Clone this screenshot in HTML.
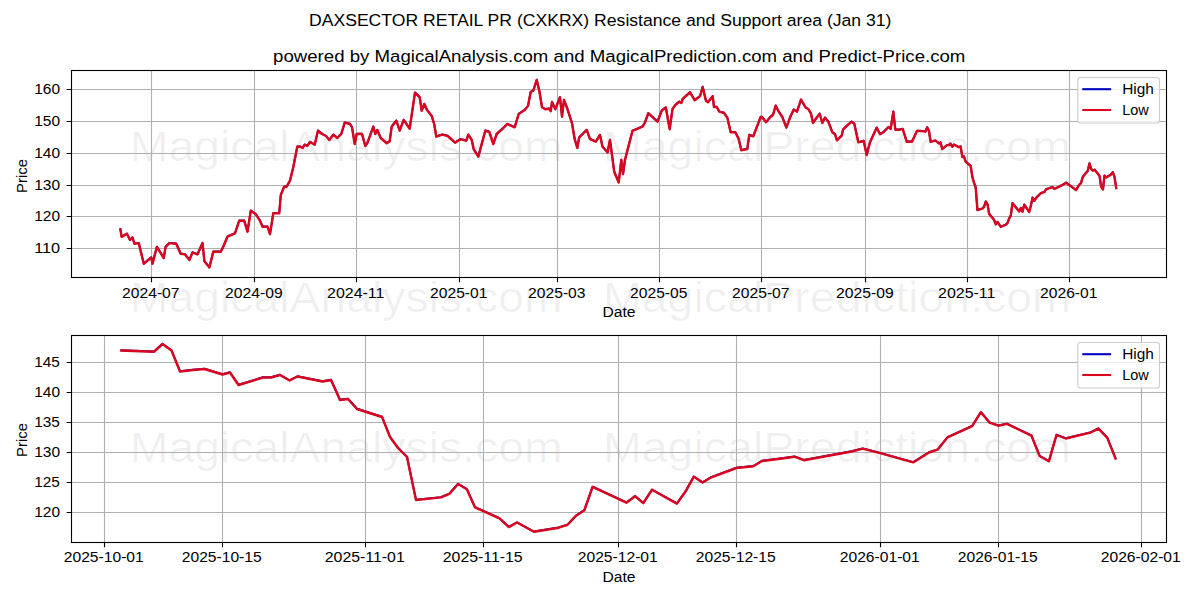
<!DOCTYPE html>
<html><head><meta charset="utf-8"><title>DAXSECTOR RETAIL PR (CXKRX) Resistance and Support area</title>
<style>html,body{margin:0;padding:0;background:#fff;width:1200px;height:600px;overflow:hidden}svg{display:block}text{font-family:"Liberation Sans",sans-serif}</style>
</head><body>
<svg width="1200" height="600" viewBox="0 0 1200 600">
<rect x="0" y="0" width="1200" height="600" fill="#ffffff"/>
<text x="129.89" y="161.20" font-size="41.667" textLength="432.67" lengthAdjust="spacingAndGlyphs" fill="#000" fill-opacity="0.058">MagicalAnalysis.com</text>
<text x="602.97" y="161.20" font-size="41.667" textLength="468.00" lengthAdjust="spacingAndGlyphs" fill="#000" fill-opacity="0.058">MagicalPrediction.com</text>
<text x="129.89" y="311.90" font-size="41.667" textLength="432.67" lengthAdjust="spacingAndGlyphs" fill="#000" fill-opacity="0.058">MagicalAnalysis.com</text>
<text x="602.97" y="311.90" font-size="41.667" textLength="468.00" lengthAdjust="spacingAndGlyphs" fill="#000" fill-opacity="0.058">MagicalPrediction.com</text>
<text x="129.89" y="461.60" font-size="41.667" textLength="432.67" lengthAdjust="spacingAndGlyphs" fill="#000" fill-opacity="0.058">MagicalAnalysis.com</text>
<text x="602.97" y="461.60" font-size="41.667" textLength="468.00" lengthAdjust="spacingAndGlyphs" fill="#000" fill-opacity="0.058">MagicalPrediction.com</text>
<path d="M151.5 70.5V277.5M254.5 70.5V277.5M356.5 70.5V277.5M459.5 70.5V277.5M557.5 70.5V277.5M659.5 70.5V277.5M761.5 70.5V277.5M865.5 70.5V277.5M967.5 70.5V277.5M1069.5 70.5V277.5M71.5 248.5H1166.5M71.5 216.5H1166.5M71.5 185.5H1166.5M71.5 153.5H1166.5M71.5 121.5H1166.5M71.5 89.5H1166.5" stroke="#b0b0b0" stroke-width="1.111" fill="none"/>
<path transform="translate(0 -0.25)" d="M120.40 229.40 L121.60 236.90 L126.90 233.80 L130.00 240.00 L132.50 237.50 L134.40 243.75 L138.75 243.10 L143.75 263.75 L151.25 257.50 L152.50 263.75 L156.90 246.90 L163.75 258.10 L165.60 246.90 L169.40 243.10 L176.25 243.75 L180.60 253.75 L185.00 254.40 L189.40 260.00 L192.50 252.50 L197.50 254.40 L202.50 243.10 L204.40 261.25 L209.40 267.50 L213.30 251.70 L220.80 251.70 L223.30 246.70 L227.50 236.70 L235.00 233.30 L239.20 220.80 L244.20 220.80 L247.50 231.70 L250.80 210.80 L255.80 214.20 L260.00 220.80 L262.50 226.70 L267.50 226.70 L270.00 234.20 L273.30 213.30 L279.20 213.30 L280.80 195.00 L284.20 186.70 L286.70 186.70 L290.00 180.70 L293.30 167.30 L297.30 146.70 L300.00 146.70 L302.70 148.00 L304.70 144.70 L307.30 146.00 L310.00 142.00 L314.70 144.70 L318.00 130.70 L322.00 134.00 L326.00 136.00 L329.30 140.00 L333.30 134.70 L337.30 138.00 L341.30 134.00 L344.70 122.70 L350.00 124.00 L352.00 127.30 L354.70 144.00 L356.70 134.00 L362.00 134.00 L365.30 146.00 L367.30 143.30 L373.30 126.70 L375.30 134.00 L377.30 130.00 L380.70 138.00 L386.70 143.30 L389.70 141.30 L391.70 126.70 L396.30 120.70 L399.70 130.70 L403.70 120.00 L409.70 128.70 L415.00 92.70 L419.70 97.30 L421.70 110.70 L424.30 104.00 L427.00 110.00 L431.70 116.00 L434.30 124.70 L436.30 136.70 L442.30 134.70 L447.70 136.00 L455.00 142.70 L460.30 139.30 L466.30 140.70 L468.30 134.70 L471.70 140.00 L473.70 149.30 L478.30 156.70 L485.30 130.70 L489.30 132.00 L493.30 144.00 L496.70 134.00 L502.00 129.30 L504.70 126.70 L507.30 124.00 L514.70 127.30 L518.70 114.00 L524.70 110.00 L528.00 106.00 L530.70 92.00 L533.30 90.70 L536.70 80.00 L539.30 90.70 L542.00 107.30 L545.30 109.30 L549.30 108.70 L550.70 111.30 L552.00 102.00 L555.30 109.30 L560.00 97.30 L562.00 116.70 L564.00 100.00 L567.30 108.70 L572.00 123.30 L574.70 139.30 L577.30 148.00 L579.20 137.50 L586.70 130.00 L590.00 139.20 L595.80 141.70 L600.00 135.00 L602.50 146.70 L607.50 152.50 L610.00 140.00 L614.20 171.70 L618.70 182.50 L621.30 160.00 L623.00 174.20 L625.00 160.00 L632.50 130.80 L642.50 126.70 L645.00 122.50 L648.30 113.30 L657.50 121.70 L661.70 110.80 L665.80 107.50 L669.70 129.20 L672.50 109.20 L675.30 105.00 L679.30 101.70 L681.30 103.00 L682.70 99.00 L690.00 92.30 L694.70 100.30 L700.00 96.30 L702.70 87.00 L706.00 101.00 L708.00 102.30 L712.70 96.30 L714.00 107.00 L716.70 107.00 L719.30 111.70 L724.00 113.00 L727.30 117.70 L730.70 132.30 L735.30 132.30 L738.70 139.00 L741.30 150.30 L747.30 149.00 L749.30 135.00 L753.30 136.30 L760.70 117.00 L762.00 117.00 L766.00 122.30 L770.30 117.00 L773.00 115.00 L775.70 105.70 L778.30 111.00 L782.30 117.00 L786.30 127.70 L790.30 117.00 L793.70 109.70 L797.00 111.70 L801.00 99.70 L805.70 107.70 L808.30 109.00 L811.00 113.70 L813.00 123.00 L816.30 118.30 L819.70 113.70 L822.30 123.00 L825.00 117.70 L828.30 121.70 L832.30 132.30 L835.00 134.30 L837.00 140.30 L841.70 135.70 L843.00 129.70 L846.30 126.30 L851.70 121.70 L854.30 123.70 L858.30 142.30 L863.70 141.00 L866.70 155.00 L870.00 142.30 L876.70 127.70 L880.00 134.30 L883.30 132.30 L888.70 127.00 L890.70 129.00 L893.30 111.70 L895.30 129.70 L900.00 129.70 L902.70 129.00 L906.70 141.70 L912.00 141.70 L917.00 131.00 L919.02 130.84 L925.48 131.53 L927.17 127.39 L928.95 130.84 L930.64 141.97 L933.22 141.18 L935.50 140.65 L939.07 143.56 L940.55 142.50 L942.24 149.12 L947.10 145.15 L948.69 145.15 L950.47 143.83 L952.36 146.74 L953.94 144.62 L958.90 147.27 L960.59 146.47 L962.37 157.07 L963.96 156.55 L965.74 161.84 L970.70 166.09 L972.29 176.68 L973.87 182.51 L975.66 187.29 L977.44 210.08 L982.40 208.70 L984.05 206.84 L985.79 201.59 L987.52 204.35 L989.15 213.94 L994.01 219.83 L995.85 224.44 L997.48 222.00 L1000.83 226.93 L1005.75 224.76 L1007.49 223.22 L1009.12 218.61 L1010.84 215.48 L1012.47 203.13 L1019.17 211.51 L1020.90 208.06 L1022.53 211.77 L1024.25 204.67 L1029.19 211.98 L1030.94 205.46 L1032.54 197.73 L1034.29 200.85 L1036.01 198.04 L1040.99 193.12 L1044.34 192.16 L1046.07 189.40 L1049.64 188.19 L1052.51 187.13 L1054.36 188.98 L1063.84 184.37 L1066.04 182.83 L1069.51 185.27 L1076.06 190.15 L1079.19 184.90 L1080.92 183.36 L1082.88 176.84 L1087.74 170.96 L1089.48 163.54 L1091.21 169.11 L1092.91 170.70 L1094.64 169.74 L1099.50 175.94 L1101.13 186.76 L1102.97 189.56 L1104.48 175.63 L1106.32 177.48 L1111.18 174.41 L1112.81 172.23 L1114.55 177.16 L1116.18 188.08" stroke="#0000c0" stroke-width="1.9" fill="none" stroke-linejoin="round" stroke-linecap="square"/>
<path d="M120.40 229.40 L121.60 236.90 L126.90 233.80 L130.00 240.00 L132.50 237.50 L134.40 243.75 L138.75 243.10 L143.75 263.75 L151.25 257.50 L152.50 263.75 L156.90 246.90 L163.75 258.10 L165.60 246.90 L169.40 243.10 L176.25 243.75 L180.60 253.75 L185.00 254.40 L189.40 260.00 L192.50 252.50 L197.50 254.40 L202.50 243.10 L204.40 261.25 L209.40 267.50 L213.30 251.70 L220.80 251.70 L223.30 246.70 L227.50 236.70 L235.00 233.30 L239.20 220.80 L244.20 220.80 L247.50 231.70 L250.80 210.80 L255.80 214.20 L260.00 220.80 L262.50 226.70 L267.50 226.70 L270.00 234.20 L273.30 213.30 L279.20 213.30 L280.80 195.00 L284.20 186.70 L286.70 186.70 L290.00 180.70 L293.30 167.30 L297.30 146.70 L300.00 146.70 L302.70 148.00 L304.70 144.70 L307.30 146.00 L310.00 142.00 L314.70 144.70 L318.00 130.70 L322.00 134.00 L326.00 136.00 L329.30 140.00 L333.30 134.70 L337.30 138.00 L341.30 134.00 L344.70 122.70 L350.00 124.00 L352.00 127.30 L354.70 144.00 L356.70 134.00 L362.00 134.00 L365.30 146.00 L367.30 143.30 L373.30 126.70 L375.30 134.00 L377.30 130.00 L380.70 138.00 L386.70 143.30 L389.70 141.30 L391.70 126.70 L396.30 120.70 L399.70 130.70 L403.70 120.00 L409.70 128.70 L415.00 92.70 L419.70 97.30 L421.70 110.70 L424.30 104.00 L427.00 110.00 L431.70 116.00 L434.30 124.70 L436.30 136.70 L442.30 134.70 L447.70 136.00 L455.00 142.70 L460.30 139.30 L466.30 140.70 L468.30 134.70 L471.70 140.00 L473.70 149.30 L478.30 156.70 L485.30 130.70 L489.30 132.00 L493.30 144.00 L496.70 134.00 L502.00 129.30 L504.70 126.70 L507.30 124.00 L514.70 127.30 L518.70 114.00 L524.70 110.00 L528.00 106.00 L530.70 92.00 L533.30 90.70 L536.70 80.00 L539.30 90.70 L542.00 107.30 L545.30 109.30 L549.30 108.70 L550.70 111.30 L552.00 102.00 L555.30 109.30 L560.00 97.30 L562.00 116.70 L564.00 100.00 L567.30 108.70 L572.00 123.30 L574.70 139.30 L577.30 148.00 L579.20 137.50 L586.70 130.00 L590.00 139.20 L595.80 141.70 L600.00 135.00 L602.50 146.70 L607.50 152.50 L610.00 140.00 L614.20 171.70 L618.70 182.50 L621.30 160.00 L623.00 174.20 L625.00 160.00 L632.50 130.80 L642.50 126.70 L645.00 122.50 L648.30 113.30 L657.50 121.70 L661.70 110.80 L665.80 107.50 L669.70 129.20 L672.50 109.20 L675.30 105.00 L679.30 101.70 L681.30 103.00 L682.70 99.00 L690.00 92.30 L694.70 100.30 L700.00 96.30 L702.70 87.00 L706.00 101.00 L708.00 102.30 L712.70 96.30 L714.00 107.00 L716.70 107.00 L719.30 111.70 L724.00 113.00 L727.30 117.70 L730.70 132.30 L735.30 132.30 L738.70 139.00 L741.30 150.30 L747.30 149.00 L749.30 135.00 L753.30 136.30 L760.70 117.00 L762.00 117.00 L766.00 122.30 L770.30 117.00 L773.00 115.00 L775.70 105.70 L778.30 111.00 L782.30 117.00 L786.30 127.70 L790.30 117.00 L793.70 109.70 L797.00 111.70 L801.00 99.70 L805.70 107.70 L808.30 109.00 L811.00 113.70 L813.00 123.00 L816.30 118.30 L819.70 113.70 L822.30 123.00 L825.00 117.70 L828.30 121.70 L832.30 132.30 L835.00 134.30 L837.00 140.30 L841.70 135.70 L843.00 129.70 L846.30 126.30 L851.70 121.70 L854.30 123.70 L858.30 142.30 L863.70 141.00 L866.70 155.00 L870.00 142.30 L876.70 127.70 L880.00 134.30 L883.30 132.30 L888.70 127.00 L890.70 129.00 L893.30 111.70 L895.30 129.70 L900.00 129.70 L902.70 129.00 L906.70 141.70 L912.00 141.70 L917.00 131.00 L919.02 130.84 L925.48 131.53 L927.17 127.39 L928.95 130.84 L930.64 141.97 L933.22 141.18 L935.50 140.65 L939.07 143.56 L940.55 142.50 L942.24 149.12 L947.10 145.15 L948.69 145.15 L950.47 143.83 L952.36 146.74 L953.94 144.62 L958.90 147.27 L960.59 146.47 L962.37 157.07 L963.96 156.55 L965.74 161.84 L970.70 166.09 L972.29 176.68 L973.87 182.51 L975.66 187.29 L977.44 210.08 L982.40 208.70 L984.05 206.84 L985.79 201.59 L987.52 204.35 L989.15 213.94 L994.01 219.83 L995.85 224.44 L997.48 222.00 L1000.83 226.93 L1005.75 224.76 L1007.49 223.22 L1009.12 218.61 L1010.84 215.48 L1012.47 203.13 L1019.17 211.51 L1020.90 208.06 L1022.53 211.77 L1024.25 204.67 L1029.19 211.98 L1030.94 205.46 L1032.54 197.73 L1034.29 200.85 L1036.01 198.04 L1040.99 193.12 L1044.34 192.16 L1046.07 189.40 L1049.64 188.19 L1052.51 187.13 L1054.36 188.98 L1063.84 184.37 L1066.04 182.83 L1069.51 185.27 L1076.06 190.15 L1079.19 184.90 L1080.92 183.36 L1082.88 176.84 L1087.74 170.96 L1089.48 163.54 L1091.21 169.11 L1092.91 170.70 L1094.64 169.74 L1099.50 175.94 L1101.13 186.76 L1102.97 189.56 L1104.48 175.63 L1106.32 177.48 L1111.18 174.41 L1112.81 172.23 L1114.55 177.16 L1116.18 188.08" stroke="#da061e" stroke-width="2.4" fill="none" stroke-linejoin="round" stroke-linecap="square"/>
<rect x="71.5" y="70.5" width="1095.0" height="207.0" fill="none" stroke="#000" stroke-width="1.111" stroke-linejoin="miter" stroke-linecap="square"/>
<path d="M151.5 277.5v4.861M254.5 277.5v4.861M356.5 277.5v4.861M459.5 277.5v4.861M557.5 277.5v4.861M659.5 277.5v4.861M761.5 277.5v4.861M865.5 277.5v4.861M967.5 277.5v4.861M1069.5 277.5v4.861M71.5 248.5h-4.861M71.5 216.5h-4.861M71.5 185.5h-4.861M71.5 153.5h-4.861M71.5 121.5h-4.861M71.5 89.5h-4.861" stroke="#000" stroke-width="1.111" fill="none"/>
<text x="122.12" y="298.00" font-size="13.889" textLength="57.40" lengthAdjust="spacingAndGlyphs" fill="#000">2024-07</text>
<text x="225.11" y="298.00" font-size="13.889" textLength="57.57" lengthAdjust="spacingAndGlyphs" fill="#000">2024-09</text>
<text x="327.10" y="298.00" font-size="13.889" textLength="57.30" lengthAdjust="spacingAndGlyphs" fill="#000">2024-11</text>
<text x="430.12" y="298.00" font-size="13.889" textLength="57.28" lengthAdjust="spacingAndGlyphs" fill="#000">2025-01</text>
<text x="528.12" y="298.00" font-size="13.889" textLength="57.37" lengthAdjust="spacingAndGlyphs" fill="#000">2025-03</text>
<text x="630.12" y="298.00" font-size="13.889" textLength="57.24" lengthAdjust="spacingAndGlyphs" fill="#000">2025-05</text>
<text x="732.12" y="298.00" font-size="13.889" textLength="57.40" lengthAdjust="spacingAndGlyphs" fill="#000">2025-07</text>
<text x="836.11" y="298.00" font-size="13.889" textLength="57.57" lengthAdjust="spacingAndGlyphs" fill="#000">2025-09</text>
<text x="938.10" y="298.00" font-size="13.889" textLength="57.30" lengthAdjust="spacingAndGlyphs" fill="#000">2025-11</text>
<text x="1040.12" y="298.00" font-size="13.889" textLength="57.28" lengthAdjust="spacingAndGlyphs" fill="#000">2026-01</text>
<text x="34.18" y="253.25" font-size="13.889" textLength="25.93" lengthAdjust="spacingAndGlyphs" fill="#000">110</text>
<text x="34.23" y="221.25" font-size="13.889" textLength="25.85" lengthAdjust="spacingAndGlyphs" fill="#000">120</text>
<text x="34.23" y="190.25" font-size="13.889" textLength="25.85" lengthAdjust="spacingAndGlyphs" fill="#000">130</text>
<text x="34.23" y="158.25" font-size="13.889" textLength="25.85" lengthAdjust="spacingAndGlyphs" fill="#000">140</text>
<text x="34.23" y="126.25" font-size="13.889" textLength="25.85" lengthAdjust="spacingAndGlyphs" fill="#000">150</text>
<text x="34.23" y="94.25" font-size="13.889" textLength="25.85" lengthAdjust="spacingAndGlyphs" fill="#000">160</text>
<text x="602.48" y="316.50" font-size="13.889" textLength="33.08" lengthAdjust="spacingAndGlyphs" fill="#000">Date</text>
<text x="0" y="0" font-size="13.889" text-anchor="middle" textLength="33.88" lengthAdjust="spacingAndGlyphs" transform="translate(26.6 176) rotate(-90)">Price</text>
<rect x="1077.8" y="77.5" width="81.7" height="45.5" rx="2.8" ry="2.8" fill="#ffffff" fill-opacity="0.8" stroke="#cccccc" stroke-width="1.111"/>
<path d="M1083.3 89.2H1110.1" stroke="#0000c0" stroke-width="2.083" stroke-linecap="square"/>
<path d="M1083.3 110.0H1110.1" stroke="#da061e" stroke-width="2.083" stroke-linecap="square"/>
<text x="1122.20" y="94.00" font-size="13.889" textLength="31.64" lengthAdjust="spacingAndGlyphs" fill="#000">High</text>
<text x="1122.28" y="114.60" font-size="13.889" textLength="26.56" lengthAdjust="spacingAndGlyphs" fill="#000">Low</text>
<path d="M104.5 335.5V542.5M222.5 335.5V542.5M365.5 335.5V542.5M483.5 335.5V542.5M618.5 335.5V542.5M736.5 335.5V542.5M880.5 335.5V542.5M998.5 335.5V542.5M1141.5 335.5V542.5M71.5 512.5H1166.5M71.5 482.5H1166.5M71.5 452.5H1166.5M71.5 422.5H1166.5M71.5 392.5H1166.5M71.5 362.5H1166.5" stroke="#b0b0b0" stroke-width="1.111" fill="none"/>
<path transform="translate(0 -0.25)" d="M121.40 350.50 L154.00 351.80 L162.50 344.00 L171.50 350.50 L180.00 371.50 L193.00 370.00 L204.50 369.00 L222.50 374.50 L230.00 372.50 L238.50 385.00 L263.00 377.50 L271.00 377.50 L280.00 375.00 L289.50 380.50 L297.50 376.50 L322.50 381.50 L331.00 380.00 L340.00 400.00 L348.00 399.00 L357.00 409.00 L382.00 417.00 L390.00 437.00 L398.00 448.00 L407.00 457.00 L416.00 500.00 L441.00 497.40 L449.30 493.90 L458.10 484.00 L466.80 489.20 L475.00 507.30 L499.50 518.40 L508.80 527.10 L517.00 522.50 L533.90 531.80 L558.70 527.70 L567.50 524.80 L575.70 516.10 L584.40 510.20 L592.60 486.90 L626.40 502.70 L635.10 496.20 L643.30 503.20 L652.00 489.80 L676.90 503.60 L685.70 491.30 L693.80 476.70 L702.60 482.60 L711.30 477.30 L736.40 468.00 L753.30 466.20 L762.00 461.00 L780.00 458.70 L794.50 456.70 L803.80 460.20 L851.60 451.50 L862.70 448.60 L880.20 453.20 L913.20 462.40 L929.00 452.50 L937.70 449.60 L947.60 437.30 L972.10 426.20 L980.90 412.20 L989.60 422.70 L998.20 425.70 L1006.90 423.90 L1031.40 435.60 L1039.60 456.00 L1048.90 461.30 L1056.50 435.00 L1065.80 438.50 L1090.30 432.70 L1098.50 428.60 L1107.30 437.90 L1115.50 458.50" stroke="#0000c0" stroke-width="1.9" fill="none" stroke-linejoin="round" stroke-linecap="square"/>
<path d="M121.40 350.50 L154.00 351.80 L162.50 344.00 L171.50 350.50 L180.00 371.50 L193.00 370.00 L204.50 369.00 L222.50 374.50 L230.00 372.50 L238.50 385.00 L263.00 377.50 L271.00 377.50 L280.00 375.00 L289.50 380.50 L297.50 376.50 L322.50 381.50 L331.00 380.00 L340.00 400.00 L348.00 399.00 L357.00 409.00 L382.00 417.00 L390.00 437.00 L398.00 448.00 L407.00 457.00 L416.00 500.00 L441.00 497.40 L449.30 493.90 L458.10 484.00 L466.80 489.20 L475.00 507.30 L499.50 518.40 L508.80 527.10 L517.00 522.50 L533.90 531.80 L558.70 527.70 L567.50 524.80 L575.70 516.10 L584.40 510.20 L592.60 486.90 L626.40 502.70 L635.10 496.20 L643.30 503.20 L652.00 489.80 L676.90 503.60 L685.70 491.30 L693.80 476.70 L702.60 482.60 L711.30 477.30 L736.40 468.00 L753.30 466.20 L762.00 461.00 L780.00 458.70 L794.50 456.70 L803.80 460.20 L851.60 451.50 L862.70 448.60 L880.20 453.20 L913.20 462.40 L929.00 452.50 L937.70 449.60 L947.60 437.30 L972.10 426.20 L980.90 412.20 L989.60 422.70 L998.20 425.70 L1006.90 423.90 L1031.40 435.60 L1039.60 456.00 L1048.90 461.30 L1056.50 435.00 L1065.80 438.50 L1090.30 432.70 L1098.50 428.60 L1107.30 437.90 L1115.50 458.50" stroke="#da061e" stroke-width="2.4" fill="none" stroke-linejoin="round" stroke-linecap="square"/>
<rect x="71.5" y="335.5" width="1095.0" height="207.0" fill="none" stroke="#000" stroke-width="1.111" stroke-linejoin="miter" stroke-linecap="square"/>
<path d="M104.5 542.5v4.861M222.5 542.5v4.861M365.5 542.5v4.861M483.5 542.5v4.861M618.5 542.5v4.861M736.5 542.5v4.861M880.5 542.5v4.861M998.5 542.5v4.861M1141.5 542.5v4.861M71.5 512.5h-4.861M71.5 482.5h-4.861M71.5 452.5h-4.861M71.5 422.5h-4.861M71.5 392.5h-4.861M71.5 362.5h-4.861" stroke="#000" stroke-width="1.111" fill="none"/>
<text x="63.77" y="562.20" font-size="13.889" textLength="79.97" lengthAdjust="spacingAndGlyphs" fill="#000">2025-10-01</text>
<text x="181.77" y="562.20" font-size="13.889" textLength="79.93" lengthAdjust="spacingAndGlyphs" fill="#000">2025-10-15</text>
<text x="324.76" y="562.20" font-size="13.889" textLength="79.98" lengthAdjust="spacingAndGlyphs" fill="#000">2025-11-01</text>
<text x="442.76" y="562.20" font-size="13.889" textLength="79.94" lengthAdjust="spacingAndGlyphs" fill="#000">2025-11-15</text>
<text x="577.77" y="562.20" font-size="13.889" textLength="79.97" lengthAdjust="spacingAndGlyphs" fill="#000">2025-12-01</text>
<text x="695.77" y="562.20" font-size="13.889" textLength="79.93" lengthAdjust="spacingAndGlyphs" fill="#000">2025-12-15</text>
<text x="839.77" y="562.20" font-size="13.889" textLength="79.97" lengthAdjust="spacingAndGlyphs" fill="#000">2026-01-01</text>
<text x="957.77" y="562.20" font-size="13.889" textLength="79.93" lengthAdjust="spacingAndGlyphs" fill="#000">2026-01-15</text>
<text x="1100.77" y="562.20" font-size="13.889" textLength="79.97" lengthAdjust="spacingAndGlyphs" fill="#000">2026-02-01</text>
<text x="34.23" y="517.25" font-size="13.889" textLength="25.85" lengthAdjust="spacingAndGlyphs" fill="#000">120</text>
<text x="34.25" y="487.25" font-size="13.889" textLength="25.58" lengthAdjust="spacingAndGlyphs" fill="#000">125</text>
<text x="34.23" y="457.25" font-size="13.889" textLength="25.85" lengthAdjust="spacingAndGlyphs" fill="#000">130</text>
<text x="34.25" y="427.25" font-size="13.889" textLength="25.58" lengthAdjust="spacingAndGlyphs" fill="#000">135</text>
<text x="34.23" y="397.25" font-size="13.889" textLength="25.85" lengthAdjust="spacingAndGlyphs" fill="#000">140</text>
<text x="34.25" y="367.25" font-size="13.889" textLength="25.58" lengthAdjust="spacingAndGlyphs" fill="#000">145</text>
<text x="602.48" y="581.50" font-size="13.889" textLength="33.08" lengthAdjust="spacingAndGlyphs" fill="#000">Date</text>
<text x="0" y="0" font-size="13.889" text-anchor="middle" textLength="33.88" lengthAdjust="spacingAndGlyphs" transform="translate(26.6 440) rotate(-90)">Price</text>
<rect x="1077.8" y="342.5" width="81.7" height="45.5" rx="2.8" ry="2.8" fill="#ffffff" fill-opacity="0.8" stroke="#cccccc" stroke-width="1.111"/>
<path d="M1083.3 354.2H1110.1" stroke="#0000c0" stroke-width="2.083" stroke-linecap="square"/>
<path d="M1083.3 375.0H1110.1" stroke="#da061e" stroke-width="2.083" stroke-linecap="square"/>
<text x="1122.20" y="359.00" font-size="13.889" textLength="31.64" lengthAdjust="spacingAndGlyphs" fill="#000">High</text>
<text x="1122.28" y="379.60" font-size="13.889" textLength="26.56" lengthAdjust="spacingAndGlyphs" fill="#000">Low</text>
<text x="308.98" y="25.80" font-size="16.667" textLength="582.47" lengthAdjust="spacingAndGlyphs" fill="#000">DAXSECTOR RETAIL PR (CXKRX) Resistance and Support area (Jan 31)</text>
<text x="273.12" y="61.60" font-size="16.667" textLength="692.26" lengthAdjust="spacingAndGlyphs" fill="#000">powered by MagicalAnalysis.com and MagicalPrediction.com and Predict-Price.com</text>
</svg>
</body></html>
